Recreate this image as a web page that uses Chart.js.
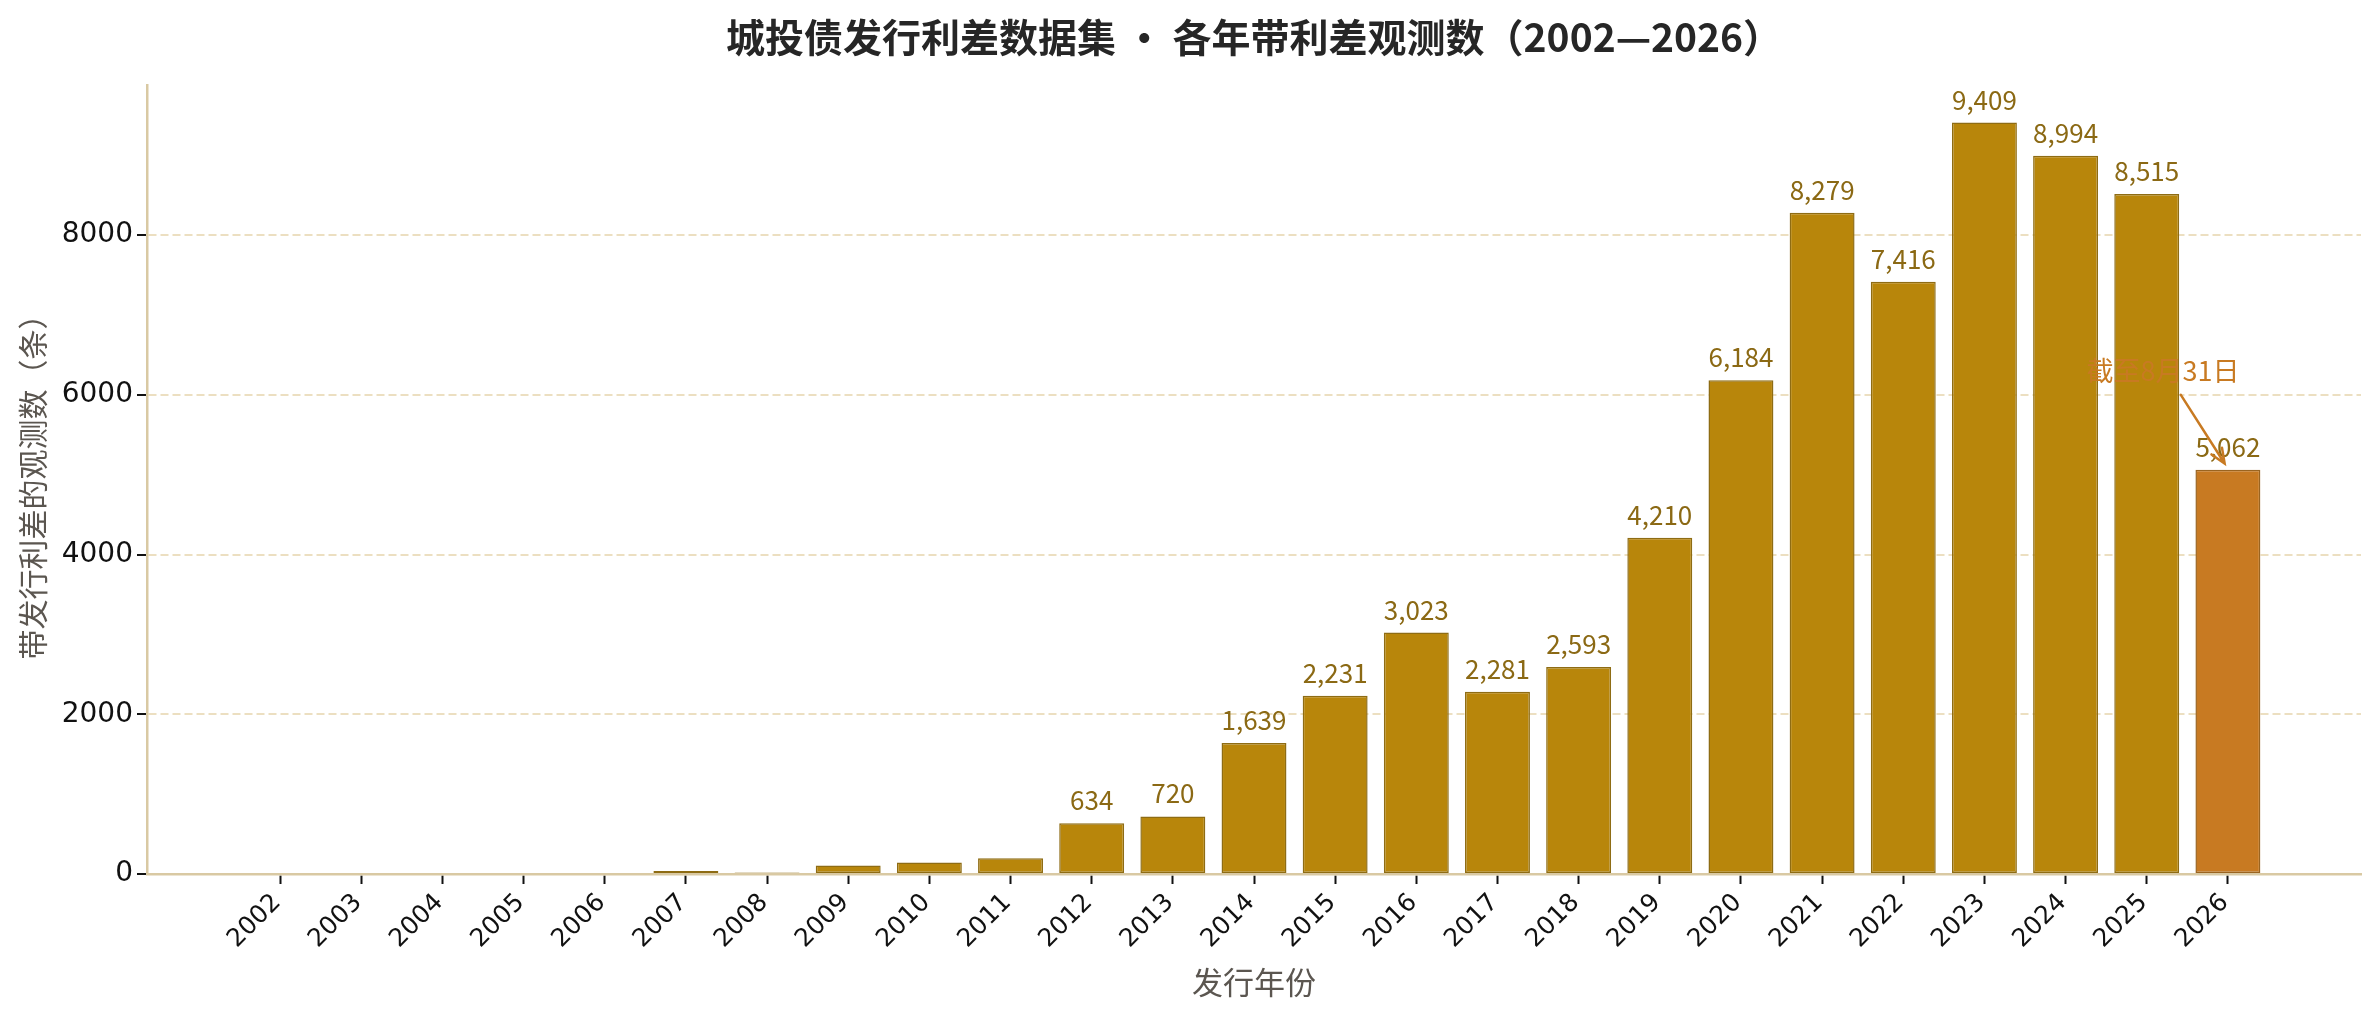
<!DOCTYPE html>
<html>
<head>
<meta charset="utf-8">
<script src="https://cdn.jsdelivr.net/npm/chart.js@4.4.1/dist/chart.umd.min.js"></script>
<style>
  html, body { margin: 0; padding: 0; background: #ffffff; }
  #wrap { width: 2379px; height: 1019px; }
</style>
</head>
<body>
<div id="wrap"><canvas id="c" width="2379" height="1019"></canvas></div>
<script>
// ---- data ----
const years = ['2002','2003','2004','2005','2006','2007','2008','2009','2010','2011','2012','2013',
               '2014','2015','2016','2017','2018','2019','2020','2021','2022','2023','2024','2025','2026'];
const counts = [0, 1, 1, 3, 3, 38, 18, 107, 145, 197, 634, 720,
                1639, 2231, 3023, 2281, 2593, 4210, 6184, 8279, 7416, 9409, 8994, 8515, 5062];
const yTicks = [0, 2000, 4000, 6000, 8000];
const highlightYear = '2026';
const labelThreshold = 500;
const titleText = '城投债发行利差数据集 • 各年带利差观测数（2002—2026）';
const xTitle = '发行年份';
const yTitle = '带发行利差的观测数（条）';
const noteText = '截至8月31日';
// annotation anchor in data coordinates (text centre, arrow start, arrow tip)
const noteText_at = {x: 23.2, y: 6300};
const noteArrowFrom = {x: 23.42, y: 6000};
const noteArrowTo = {x: 23.96, y: 5140};

// ---- styles ----
const BAR = '#B8860B', BAR_EDGE = '#8E6C14';
const HI = '#C87A22', HI_EDGE = '#9A6420';
const LABEL = '#8B6914';
const AXIS = '#D9C9A3';
const GRID = 'rgba(230,212,172,0.75)';
const CJK = '"Noto Sans CJK SC", "Noto Sans", sans-serif';
const yMax = Math.max(...counts) * 1.05;

const valueLabels = {
  id: 'valueLabels',
  afterDatasetsDraw(chart) {
    const ctx = chart.ctx;
    const meta = chart.getDatasetMeta(0);
    ctx.save();
    ctx.font = '26px ' + CJK;
    ctx.fillStyle = LABEL;
    ctx.textAlign = 'center';
    ctx.textBaseline = 'alphabetic';
    meta.data.forEach((bar, i) => {
      const v = counts[i];
      if (v < labelThreshold) return;
      ctx.fillText(v.toLocaleString('en-US'), bar.x, bar.y - 13);
    });
    ctx.restore();
  }
};

const note = {
  id: 'note',
  afterDraw(chart) {
    const ctx = chart.ctx, xs = chart.scales.x, ys = chart.scales.y;
    const tx = xs.getPixelForValue(noteText_at.x), ty = ys.getPixelForValue(noteText_at.y);
    const x1 = xs.getPixelForValue(noteArrowFrom.x), y1 = ys.getPixelForValue(noteArrowFrom.y);
    const x2 = xs.getPixelForValue(noteArrowTo.x), y2 = ys.getPixelForValue(noteArrowTo.y);
    ctx.save();
    ctx.font = '27px ' + CJK;
    ctx.fillStyle = HI;
    ctx.textAlign = 'center';
    ctx.textBaseline = 'middle';
    ctx.fillText(noteText, tx, ty);
    ctx.strokeStyle = HI;
    ctx.lineWidth = 2.5;
    ctx.lineCap = 'round';
    ctx.beginPath();
    ctx.moveTo(x1, y1);
    ctx.lineTo(x2, y2);
    const ang = Math.atan2(y2 - y1, x2 - x1);
    const hl = 16, ha = 0.4;
    ctx.moveTo(x2 - hl * Math.cos(ang - ha), y2 - hl * Math.sin(ang - ha));
    ctx.lineTo(x2, y2);
    ctx.lineTo(x2 - hl * Math.cos(ang + ha), y2 - hl * Math.sin(ang + ha));
    ctx.stroke();
    ctx.restore();
  }
};

new Chart(document.getElementById('c').getContext('2d'), {
  type: 'bar',
  data: {
    datasets: [{
      data: counts.map((v, i) => ({x: i, y: v})),
      backgroundColor: years.map(y => y === highlightYear ? HI : BAR),
      borderColor: years.map(y => y === highlightYear ? HI_EDGE : BAR_EDGE),
      borderWidth: 1.5,
      borderSkipped: false,
      barPercentage: 0.8,
      categoryPercentage: 1.0
    }]
  },
  options: {
    responsive: false,
    devicePixelRatio: 1,
    animation: false,
    layout: { padding: { left: 0, right: 18, top: 0, bottom: 0 } },
    plugins: {
      legend: { display: false },
      tooltip: { enabled: false },
      title: {
        display: true,
        text: titleText,
        fullSize: false,
        color: '#262626',
        font: { family: CJK, size: 39, weight: 'bold' },
        padding: { top: 14, bottom: 24.2 }
      }
    },
    scales: {
      x: {
        type: 'linear',
        min: -1.64,
        max: 25.64,
        offset: false,
        grid: { offset: false, drawOnChartArea: false, drawTicks: true, tickLength: 10, tickColor: '#111', tickWidth: 2 },
        border: { display: true, color: AXIS, width: 2.5, z: 1 },
        afterBuildTicks: s => { s.ticks = years.map((_, i) => ({value: i})); },
        afterFit: s => { s.height = 145; },
        ticks: {
          autoSkip: false,
          minRotation: 45,
          maxRotation: 45,
          labelOffset: -3,
          padding: 4,
          color: '#111',
          font: { family: '"DejaVu Sans", sans-serif', size: 25 },
          callback: v => years[v] ?? ''
        },
        title: {
          display: true,
          text: xTitle,
          color: '#5b5650',
          font: { family: CJK, size: 31 },
          padding: { top: 0, bottom: 18 }
        }
      },
      y: {
        min: 0,
        max: yMax,
        afterBuildTicks: s => { s.ticks = yTicks.map(v => ({value: v})); },
        afterFit: s => { s.width = 147; },
        grid: { color: GRID, lineWidth: 2, tickColor: '#111', tickWidth: 2, tickLength: 10, tickBorderDash: [] },
        border: { display: true, color: AXIS, width: 2.5, dash: [8, 4], z: 1 },
        ticks: {
          padding: 4,
          color: '#111',
          font: { family: '"DejaVu Sans", sans-serif', size: 28 },
          callback: v => String(v)
        },
        title: {
          display: true,
          text: yTitle,
          color: '#5b5650',
          font: { family: CJK, size: 30 },
          padding: { top: 15, bottom: 0 }
        }
      }
    }
  },
  plugins: [valueLabels, note]
});
</script>
</body>
</html>
